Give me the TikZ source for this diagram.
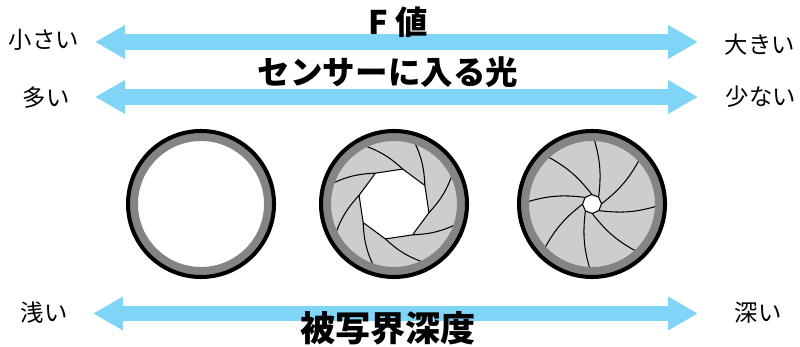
\documentclass[tikz,border=0pt]{standalone}
\usepackage{fontspec}
\usepackage{tikz}
\usetikzlibrary{arrows.meta}
\newfontfamily\jp{Noto Sans CJK JP}

\definecolor{arrowblue}{RGB}{128,212,245}
\definecolor{ringgray}{RGB}{132,132,132}
\definecolor{bladegray}{RGB}{205,205,205}

\tikzstyle{bigarrow} = [line width=9pt, draw=arrowblue,
arrows={Triangle[length=17pt,width=18pt]-Triangle[length=17pt,width=18pt]}]
\tikzstyle{side} = [inner sep=0pt, font=\jp\fontsize{13.3}{15}\selectfont]
\tikzstyle{title} = [inner sep=0pt, font=\jp\bfseries\fontsize{18.5}{20}\selectfont]
\tikzstyle{blade} = [line width=0.6pt, draw=black]

\begin{document}
\begin{tikzpicture}[x=0.02cm, y=0.02cm]
\useasboundingbox (0,0) rectangle (800,347);

% end points of the three scales
\coordinate (fL) at (95,305);
\coordinate (fR) at (698,305);
\coordinate (lL) at (95,250);
\coordinate (lR) at (698,250);
\coordinate (dL) at (93,33.5);
\coordinate (dR) at (698,33.5);

\draw[bigarrow] (fL) -- (fR);
\draw[bigarrow] (lL) -- (lR);
\draw[bigarrow] (dL) -- (dR);

\node[title] (fval) at (398,325) {F 値};
\node[title] (light) at (388,275) {センサーに入る光};
\node[title, font=\jp\bfseries\fontsize{20}{22}\selectfont] (dof) at (388,19) {被写界深度};

\node[side] (small) at (44,307) {小さい};
\node[side] (large) at (760,302) {大きい};
\node[side] (many) at (46,249) {多い};
\node[side] (few) at (761,250) {少ない};
\node[side] (shallow) at (44,34) {浅い};
\node[side] (deep) at (758,34) {深い};

% iris blades: opening radius and rotation
\foreach \cx/\op/\rot in {394/36/31, 592/9.5/1} {
  \begin{scope}[shift={(\cx,143)}]
    \fill[bladegray] (0,0) circle (68);
    \fill[white] (\rot:\op) \foreach \k in {1,...,7} { -- ({\rot+45*\k}:\op) } -- cycle;
    \foreach \k in {0,...,7} {
      \pgfmathsetmacro\a{\rot+45*\k}
      \draw[blade] (\a:\op) -- ({\a+45}:\op) to[bend right=12] ({\a+88}:68);
    }
  \end{scope}
}

% lens rings
\foreach \cx in {201,394,592} {
  \fill[ringgray, even odd rule] (\cx,143) circle (73) (\cx,143) circle (63);
  \draw[line width=2.3pt] (\cx,143) circle (73);
}
\end{tikzpicture}
\end{document}
